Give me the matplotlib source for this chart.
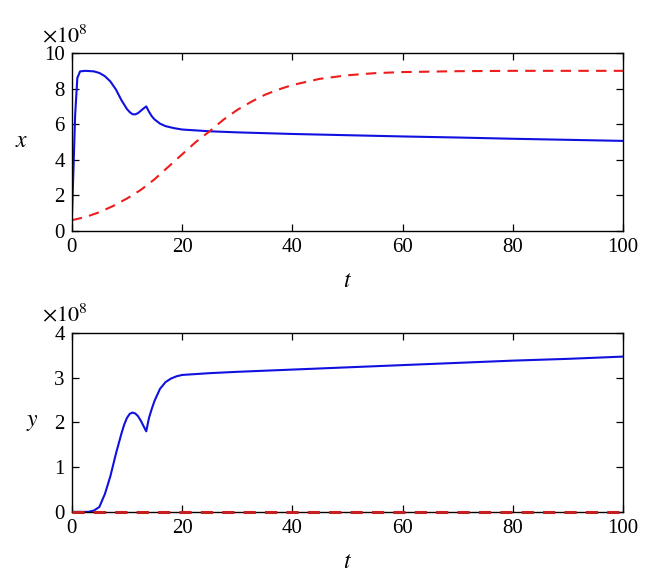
import numpy as np
import matplotlib
matplotlib.use("Agg")
import matplotlib.pyplot as plt

plt.rcParams["font.family"] = ["Liberation Serif", "DejaVu Serif"]
plt.rcParams["mathtext.fontset"] = "stix"

# top panel: x(t), in units of 1e8
t_x_blue = [0, 0.3, 0.6, 1.0, 1.5, 2.5, 4.0, 5.0, 6.0, 7.0, 8.0, 9.0, 10.0, 10.5, 11.0, 11.5, 12.0,
            12.5, 13.0, 13.5, 14.0, 14.5, 15.0, 16.0, 17.0, 18.5, 20, 25, 30, 40, 50, 60, 70, 80, 90, 100]
x_blue = [0.6, 3.5, 6.5, 8.6, 8.97, 9.0, 8.97, 8.88, 8.7, 8.4, 7.95, 7.35, 6.85, 6.68, 6.56, 6.55, 6.62,
          6.75, 6.88, 7.0, 6.7, 6.45, 6.27, 6.03, 5.89, 5.78, 5.7, 5.6, 5.54, 5.45, 5.38, 5.31, 5.25, 5.18, 5.12, 5.06]

t_x_red = [0, 2.5, 5, 7.5, 10, 12.5, 15, 17.5, 20, 22.5, 25, 27.5, 30, 32.5, 35, 37.5, 40,
           45, 50, 55, 60, 70, 80, 90, 100]
x_red = [0.6, 0.78, 1.05, 1.4, 1.82, 2.3, 2.9, 3.6, 4.3, 5.0, 5.6, 6.25, 6.8, 7.25, 7.65, 7.95, 8.2,
         8.55, 8.75, 8.87, 8.93, 8.98, 9.0, 9.0, 9.0]

# bottom panel: y(t), in units of 1e8
t_y_blue = [0, 3, 4, 5, 6, 7, 8, 9, 9.5, 10, 10.5, 11, 11.5, 12, 12.5, 13, 13.5, 14, 14.5, 15,
            16, 17, 18, 19, 20, 25, 30, 40, 50, 60, 70, 80, 90, 100]
y_blue = [0, 0.0, 0.03, 0.11, 0.4, 0.8, 1.3, 1.75, 1.95, 2.1, 2.19, 2.22, 2.2, 2.14, 2.04, 1.92, 1.8, 2.1, 2.3, 2.48,
          2.75, 2.9, 2.98, 3.03, 3.06, 3.1, 3.13, 3.18, 3.23, 3.28, 3.33, 3.38, 3.42, 3.47]

t_y_red = [0, 100]
y_red = [0, 0]

fig = plt.figure(figsize=(6.53, 5.83), dpi=100)
ax1 = fig.add_axes([0.110, 0.604, 0.844, 0.305])
ax2 = fig.add_axes([0.110, 0.122, 0.844, 0.307])

def style(ax, ymax, yticks, ylabel):
    ax.set_xlim(0, 100)
    ax.set_ylim(0, ymax)
    ax.set_xticks([0, 20, 40, 60, 80, 100])
    ax.set_yticks(yticks)
    ax.tick_params(direction="in", top=True, right=True, length=5, width=0.9,
                   labelsize=15, pad=5)
    for s in ax.spines.values():
        s.set_linewidth(1.0)
    ax.set_xlabel(r"$t$", fontsize=17, labelpad=10)
    ax.set_ylabel(ylabel, fontsize=17, rotation=0, labelpad=16, va="center")
    ax.text(-0.055, 1.035, r"$\times10^{8}$", transform=ax.transAxes, fontsize=16,
            ha="left", va="bottom")

ax1.plot(t_x_blue, x_blue, color="#1010e0", lw=1.5)
ax1.plot(t_x_red, x_red, color="#ee1c1c", lw=1.5, ls=(0, (5, 3.5)))
style(ax1, 10, [0, 2, 4, 6, 8, 10], r"$x$")

ax2.plot(t_y_blue, y_blue, color="#1010e0", lw=1.5)
ax2.plot(t_y_red, y_red, color="#c42020", lw=2.2, ls=(0, (4, 3)), zorder=5, clip_on=False)
style(ax2, 4, [0, 1, 2, 3, 4], r"$y$")

fig.savefig("out.png", dpi=100)
